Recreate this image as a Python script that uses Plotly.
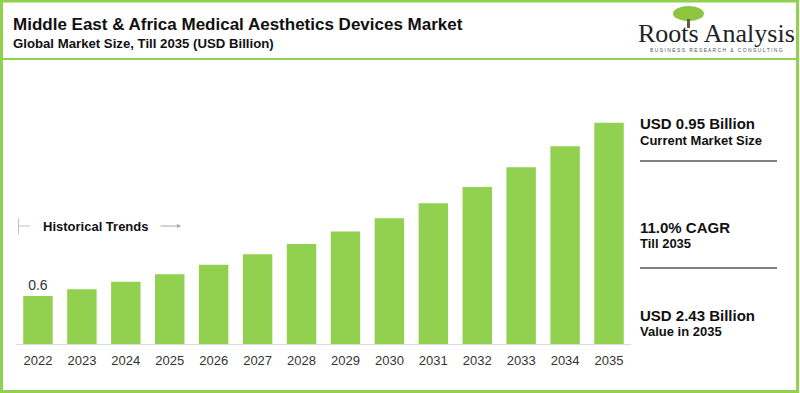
import plotly.graph_objects as go

years = ["2022", "2023", "2024", "2025", "2026", "2027", "2028",
         "2029", "2030", "2031", "2032", "2033", "2034", "2035"]
market_size = [0.60, 0.67, 0.75, 0.83, 0.93, 1.04, 1.15,
               1.28, 1.42, 1.58, 1.75, 1.96, 2.18, 2.43]
first_label = "0.6"

title = "Middle East & Africa Medical Aesthetics Devices Market"
subtitle = "Global Market Size, Till 2035 (USD Billion)"
panel_texts = [("USD 0.95 Billion", "Current Market Size"),
               ("11.0% CAGR", "Till 2035"),
               ("USD 2.43 Billion", "Value in 2035")]

W, H = 800, 393
ML, MR, MT, MB = 16, 169, 100, 49
PW, PH = W - ML - MR, H - MT - MB
FONT = "Arial, Liberation Sans, sans-serif"
GREEN = "#92D050"


def px(x):
    return (x - ML) / PW


def py(y):
    return (H - MB - y) / PH


fig = go.Figure()
fig.add_trace(go.Bar(
    x=years, y=market_size, marker=dict(color=GREEN, line=dict(width=0)),
    text=[first_label] + [""] * (len(years) - 1),
    textposition="outside", cliponaxis=False,
    textfont=dict(family=FONT, size=14, color="#333333"),
    hoverinfo="x+y",
))

annotations = []
shapes = []

# Title & subtitle
annotations.append(dict(text="<b>" + title + "</b>", x=px(11), y=py(24), xref="paper", yref="paper",
                        xanchor="left", yanchor="middle", showarrow=False,
                        font=dict(family=FONT, size=17, color="#111111")))
annotations.append(dict(text="<b>" + subtitle + "</b>", x=px(11), y=py(44), xref="paper", yref="paper",
                        xanchor="left", yanchor="middle", showarrow=False,
                        font=dict(family=FONT, size=13.2, color="#111111")))

# Logo (approximation)
shapes.append(dict(type="circle", xref="paper", yref="paper",
                   x0=px(673), x1=px(704), y0=py(21), y1=py(6),
                   fillcolor="#8cc63f", line=dict(width=0), layer="below"))
shapes.append(dict(type="rect", xref="paper", yref="paper",
                   x0=px(687), x1=px(690), y0=py(28), y1=py(19),
                   fillcolor="#6b5a3a", line=dict(width=0), layer="below"))
annotations.append(dict(text="Roots Analysis", x=px(716), y=py(33), xref="paper", yref="paper",
                        xanchor="center", yanchor="middle", showarrow=False,
                        font=dict(family="Liberation Serif, Times New Roman, serif", size=26, color="#222222")))
annotations.append(dict(text="B U S I N E S S   R E S E A R C H   &   C O N S U L T I N G",
                        x=px(716), y=py(50), xref="paper", yref="paper",
                        xanchor="center", yanchor="middle", showarrow=False,
                        font=dict(family=FONT, size=5, color="#555555")))

# Frame and title divider
shapes.append(dict(type="rect", xref="paper", yref="paper",
                   x0=px(1.5), x1=px(797.5), y0=py(1), y1=py(391.5),
                   line=dict(color=GREEN, width=3), fillcolor="rgba(0,0,0,0)", layer="above"))
shapes.append(dict(type="line", xref="paper", yref="paper",
                   x0=px(2), x1=px(798), y0=py(59), y1=py(59),
                   line=dict(color=GREEN, width=2), layer="above"))

# Historical trends marker
shapes.append(dict(type="line", xref="paper", yref="paper",
                   x0=px(18.5), x1=px(18.5), y0=py(218), y1=py(234),
                   line=dict(color="#bfbfbf", width=1)))
shapes.append(dict(type="line", xref="paper", yref="paper",
                   x0=px(18.5), x1=px(30), y0=py(226), y1=py(226),
                   line=dict(color="#bfbfbf", width=1)))
annotations.append(dict(text="<b>Historical Trends</b>", x=px(41), y=py(226), xref="paper", yref="paper",
                        xanchor="left", yanchor="middle", showarrow=False,
                        font=dict(family=FONT, size=13, color="#111111")))
annotations.append(dict(text="", x=px(181), y=py(226), xref="paper", yref="paper",
                        ax=-22, ay=0, axref="pixel", ayref="pixel", showarrow=True,
                        arrowhead=2, arrowsize=0.8, arrowwidth=1, arrowcolor="#a6a6a6"))

# Right panel
panel_y = [(123, 140), (227, 243), (315, 331)]
for (big, small), (y1, y2) in zip(panel_texts, panel_y):
    annotations.append(dict(text="<b>" + big + "</b>", x=px(638), y=py(y1), xref="paper", yref="paper",
                            xanchor="left", yanchor="middle", showarrow=False,
                            font=dict(family=FONT, size=15, color="#111111")))
    annotations.append(dict(text="<b>" + small + "</b>", x=px(638), y=py(y2), xref="paper", yref="paper",
                            xanchor="left", yanchor="middle", showarrow=False,
                            font=dict(family=FONT, size=13, color="#111111")))
for yl in (161, 268):
    shapes.append(dict(type="line", xref="paper", yref="paper",
                       x0=px(640), x1=px(777), y0=py(yl), y1=py(yl),
                       line=dict(color="#808080", width=2)))

fig.update_layout(
    width=W, height=H,
    margin=dict(l=ML, r=MR, t=MT, b=MB, pad=0),
    paper_bgcolor="white", plot_bgcolor="white",
    bargap=0.33, showlegend=False,
    font=dict(family=FONT, color="#333333"),
    xaxis=dict(showgrid=False, showline=True, linecolor="#d9d9d9", linewidth=1,
               ticks="", ticklabelstandoff=4,
               tickfont=dict(family=FONT, size=13, color="#333333"),
               zeroline=False, fixedrange=True),
    yaxis=dict(visible=False, range=[0.093, 0.093 + PH * 0.01056], fixedrange=True),
    annotations=annotations, shapes=shapes,
)

fig.write_html("out.html", config={"displayModeBar": False},
               post_script="document.body.style.margin='0';document.body.style.overflow='hidden';")
